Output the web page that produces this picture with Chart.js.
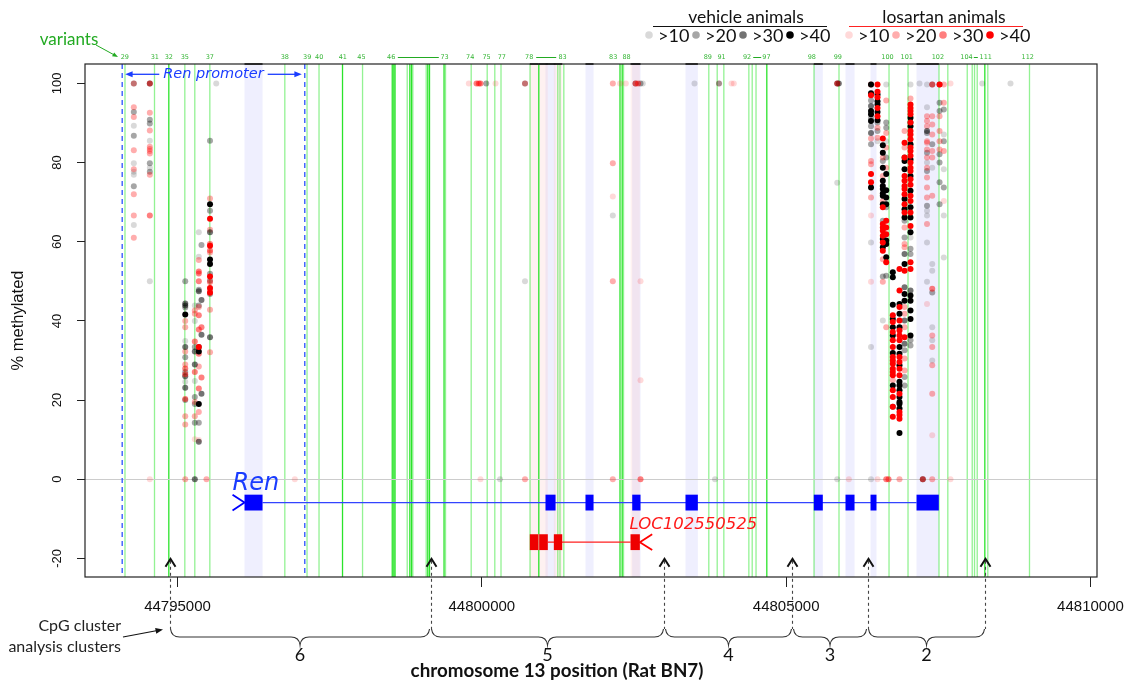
<!DOCTYPE html>
<html>
<head>
<meta charset="utf-8">
<script src="https://cdn.jsdelivr.net/npm/chart.js@4.4.0/dist/chart.umd.min.js"></script>
<style>
  html, body { margin: 0; padding: 0; background: #fff; }
</style>
</head>
<body>
<canvas id="myChart" width="1127" height="682"></canvas>
<script>
// ---- axis ticks ----
const xTicks = [44795000, 44800000, 44805000, 44810000];
const yTicks = [-20, 0, 20, 40, 60, 80, 100];

// ---- CpG site positions (chr13 bp); series below point into this list ----
const cpgSites = [
  44794282, 44794545, 44795127, 44795284, 44795350, 44795394, 44795534, 44795636, 44795476, 44796927,
  44799786, 44799913, 44799950, 44799978, 44800072, 44800225, 44800299, 44800709, 44800734, 44802152,
  44802270, 44802366, 44802525, 44802566, 44802607, 44802645, 44803494, 44803831, 44803897, 44804102,
  44804140, 44805839, 44805865, 44806030, 44806394, 44806501, 44806588, 44806644, 44806682, 44806752,
  44806862, 44806945, 44807043, 44807245, 44807314, 44807400, 44807520, 44807590, 44807700, 44808221,
  44808686, 44807191
];

// [site index, % methylated] -- vehicle animals by read coverage
const veh10 = [[0,89.3],[0,79.8],[0,77.7],[0,76.9],[0,64.2],[1,85.5],[1,78.7],[1,50],[2,34.9],[2,24.6],
  [3,43.9],[3,40],[3,24.8],[4,62.4],[4,56.2],[7,100],[16,0],[17,50],[19,66.6],[25,100],[26,100],[27,0],
  [31,74.9],[31,0],[34,75],[34,59.8],[34,33.4],[34,0],[35,85.4],[36,40.1],[37,99.7],[37,85.4],[42,99.7],[42,61.1],
  [44,99.7],[44,94],[44,80],[44,67.8],[44,66.6],[44,59.8],[44,49.9],[45,78.7],[45,54.4],[45,52.7],[45,38.4],
  [45,35.1],[45,30],[47,87.1],[47,78.3],[47,66.6],[47,56],[49,100],[50,100],[51,100]];
const veh20 = [[0,100],[0,92.8],[0,86.8],[0,74],[1,90.8],[1,89.9],[1,79.8],[1,77.7],[2,50],[2,43.4],[2,30.8],
  [2,27.1],[2,20],[3,33.4],[3,20.8],[3,19],[3,14.3],[4,47.9],[4,43.9],[4,14.3],[5,59.2],[6,85.5],[6,67.8],
  [6,51.9],[6,50.2],[6,46.8],[14,100],[17,100],[22,100],[24,100],[28,100],[34,95.7],[34,91.2],[34,89.2],
  [34,84.6],[35,90.1],[35,88],[36,80.4],[36,65.3],[36,51.2],[37,90.1],[37,88.8],[37,81.3],[37,68.7],[37,51.4],
  [41,65.3],[41,61.1],[41,32.6],[41,25.8],[41,23.7],[42,58.2],[42,56.9],[42,35.1],[42,33.8],[44,87.5],[44,82.5],
  [44,77.9],[44,69.1],[45,99.7],[45,84.6],[45,47.2],[46,99.7],[46,95.1],[46,93],[46,82.1],[46,80],[46,75],
  [46,69.5],[47,93.4],[47,85.4],[47,73.7]];
const veh30 = [[1,100],[2,44.4],[2,43.9],[2,33.4],[2,26],[2,23.1],[3,32.3],[3,29],[3,0],[4,47.5],[4,33.4],[4,9.5],
  [5,45.3],[5,36.5],[5,21.6],[6,62.4],[6,35.9],[31,100],[32,100],[34,94.3],[34,87.5],[39,18.3],[41,81.3],
  [41,56.9],[41,48.5],[41,40.1],[41,34.2],[42,90.1],[42,47.7],[43,0],[44,88]];
const veh40 = [[2,41.6],[4,32.3],[4,19],[6,69.5],[6,55.5],[6,54.4],[34,99.7],[34,97.5],[34,93],[34,92.2],[34,90.5],
  [34,73.7],[35,97.2],[35,95.5],[35,94.7],[35,92.8],[35,90.7],[36,84.4],[36,82.5],[36,78.7],[36,75.4],[36,74.1],
  [36,73.3],[36,72.2],[36,71.6],[36,69.5],[36,60.7],[36,58.6],[37,77.1],[37,73],[37,71.2],[37,69.5],[37,60.3],
  [37,59.4],[37,56.1],[39,52.3],[39,51],[39,44.1],[39,40.5],[39,38.4],[39,36.3],[39,31.9],[39,23.7],[40,44.3],
  [40,41.8],[40,38.4],[40,33.4],[40,31.7],[40,28.8],[40,24.6],[40,23.7],[40,22.5],[40,20.8],[40,19.5],[40,19.1],
  [40,17.9],[40,11.7],[41,80.4],[41,78.3],[41,70.8],[41,68.2],[41,66.1],[41,54.4],[41,46.8],[41,45.1],[42,91.3],
  [42,89.2],[42,84.6],[42,80.8],[42,76.6],[42,72.9],[42,68.7],[42,66.1],[42,62.4],[42,46.4],[42,45.1],[42,42.6],
  [42,40.5],[42,36.3]];

// losartan animals by read coverage
const los10 = [[1,0],[3,10.1],[4,9.9],[9,0],[10,100],[13,0],[15,100],[19,71.4],[20,100],[21,100],[24,50],[24,25],
  [28,100],[29,100],[30,100],[33,0],[34,66.6],[34,49.9],[35,0],[44,44.3],[45,11.1],[47,70.3],[48,100],[48,0]];
const los20 = [[0,100],[0,94],[0,91.5],[0,83.1],[0,78.3],[0,72],[0,66.6],[0,61],[1,92.6],[1,88.1],[1,84],[1,83.4],
  [1,82.9],[1,82.3],[1,76.9],[2,40],[2,38.4],[2,32.3],[2,29],[2,15.9],[2,13.8],[2,0],[3,42.6],[3,41.8],[3,19.5],
  [3,15.9],[4,55.4],[4,43.5],[4,28.5],[4,17],[6,70.9],[6,63],[6,57.3],[6,42.8],[6,32.1],[8,0],[17,100],[17,0],
  [19,100],[19,79.8],[19,50],[19,0],[34,86.1],[34,80.4],[34,79.6],[34,71.2],[35,88.8],[35,86.3],[36,81.3],
  [36,76.6],[36,70.3],[36,55.6],[36,49.9],[37,95.7],[37,87.5],[37,83.8],[37,78.7],[37,38.4],[39,25],[40,0],
  [41,88],[41,83.8],[41,63.6],[41,59.4],[41,58.6],[41,43.5],[41,41.8],[41,38.4],[41,30.5],[41,27.5],[42,96.2],
  [44,91.7],[44,90.5],[44,89.2],[44,85.4],[44,85],[44,83.3],[44,81.3],[44,78.7],[44,76.2],[44,73.7],[44,71.2],
  [44,64.5],[45,91.7],[45,89.6],[45,87.1],[45,82.9],[45,81.3],[45,71.6],[45,36.3],[45,33.4],[45,28.8],[45,21.6],
  [45,0],[46,91.7],[46,88],[46,85.4],[46,83.3],[47,99.7],[47,95.1],[47,82.9]];
const los30 = [[1,100],[1,66.6],[2,28],[2,26.5],[2,20.3],[3,34.8],[3,27.1],[4,52.5],[4,52],[4,50],[4,41.4],[4,37.8],
  [4,31.7],[4,22.9],[5,38.4],[5,25.7],[6,59.4],[6,57.8],[6,49.8],[6,47.7],[11,100],[12,100],[13,100],[22,100],
  [23,100],[24,0],[31,100],[34,99.7],[37,0],[38,0],[43,0],[45,99.7],[45,48.1]];
const los40 = [[4,33.4],[6,65.8],[6,59],[6,51.2],[6,48.3],[6,47.1],[34,97],[34,77.1],[34,75],[35,99.7],[35,97.9],
  [35,96.5],[35,93.8],[35,91.7],[36,86.1],[36,68.7],[36,64.5],[36,63.6],[36,62.8],[36,61.5],[36,59.8],[36,57.7],
  [37,65.3],[37,63.6],[37,61.9],[37,54.8],[39,41.4],[39,39.7],[39,37.2],[39,35.1],[39,33.4],[39,30.9],[39,30],
  [39,29.2],[39,27.9],[39,27.1],[39,26.3],[39,22.5],[39,20.8],[39,18.3],[39,15.8],[40,53.1],[40,47.7],[40,43.5],
  [40,40.1],[40,37.6],[40,36.3],[40,35.1],[40,30.9],[40,29.6],[40,27.9],[40,26.3],[40,21.6],[40,17],[40,16.2],
  [40,15.3],[41,85],[41,81.3],[41,76.6],[41,75.4],[41,74.1],[41,73.3],[41,72],[41,69.5],[41,67.4],[41,52.7],
  [41,35.9],[42,94.7],[42,93.8],[42,93],[42,92.2],[42,90.1],[42,88],[42,87.1],[42,85.9],[42,83.8],[42,82.9],
  [42,81.7],[42,80],[42,78.7],[42,77.9],[42,75.8],[42,74.4],[42,71.6],[42,70.3],[42,67.4],[42,64],[42,54.8],
  [42,53.1],[46,99.7]];

const coverage = ['>10', '>20', '>30', '>40'];
const vehColors = ['rgba(0,0,0,0.15)', 'rgba(0,0,0,0.35)', 'rgba(0,0,0,0.55)', 'rgba(0,0,0,1)'];
const losColors = ['rgba(255,0,0,0.15)', 'rgba(255,0,0,0.32)', 'rgba(255,0,0,0.5)', 'rgba(255,0,0,1)'];

// ---- gene models ----
const renExons = [[44796101,44796397],[44801046,44801211],[44801703,44801835],[44802471,44802607],[44803346,44803549],
  [44805454,44805602],[44805975,44806123],[44806386,44806484],[44807142,44807508]];
const renStart = 44795904;
const locExons = [[44800788,44800936],[44800936,44801084],[44801183,44801321],[44802443,44802596]];
const locEnd = 44802799;

// ---- variants (green lines) ----
const variantPos = [44794137,44794622,44794857,44795120,44795284,44795531,44796763,44797128,44797325,44797711,
  44798040,44798528,44798554,44798574,44798774,44798817,44798845,44798866,44799086,44799112,44799140,44799379,
  44799403,44799825,44800088,44800213,44800315,44800792,44800936,44801248,44801284,44801347,44802270,44802306,
  44802328,44803729,44803867,44803976,44804387,44804442,44804505,44804682,44805458,44805868,44806690,44807002,
  44807511,44807656,44807975,44808057,44808095,44808139,44808264,44808313,44808998];
const variantBright = [0,0,1,0,0,0,0,0,0,1, 0,1,1,1,0,1,1,0,0,1,1,1, 0,0,0,0,0,0,1,0,0,0,1,1,
  0,0,0,0,0,0,0,1,0,0,0,0, 0,0,0,0,0,0,1,0,0];
const variantIds = ['29','31','32','35','37','38','39','40','41','45','46','73','74','75','77','78','83','83','88',
  '89','91','92','97','98','99','100','101','102','104','111','112'];
const variantIdPos = [44794134,44794627,44794857,44795120,44795531,44796763,44797131,44797328,44797716,44798023,
  44798511,44799387,44799809,44800077,44800328,44800778,44801326,44802159,44802377,44803713,44803938,44804357,
  44804677,44805421,44805849,44806665,44806982,44807492,44807963,44808280,44808970];
const variantSpans = [[44798620,44799293],[44800893,44801222],[44804459,44804590],[44808083,44808149]];

const promoter = [44794091, 44797091];
const clusterBreaks = [44794869, 44799157, 44803001, 44805104, 44806337, 44808275];
const clusterNames = ['6', '5', '4', '3', '2'];

const LATO = 'Lato, "Open Sans", sans-serif';

function arrow(ctx, x1, y1, x2, y2, size, color, lw) {
  const ang = Math.atan2(y2 - y1, x2 - x1);
  ctx.strokeStyle = color; ctx.fillStyle = color; ctx.lineWidth = lw || 1;
  ctx.setLineDash([]);
  ctx.beginPath();
  ctx.moveTo(x1, y1);
  ctx.lineTo(x2 - Math.cos(ang) * size * 0.7, y2 - Math.sin(ang) * size * 0.7);
  ctx.stroke();
  ctx.beginPath();
  ctx.moveTo(x2, y2);
  ctx.lineTo(x2 - size * Math.cos(ang - 0.38), y2 - size * Math.sin(ang - 0.38));
  ctx.lineTo(x2 - size * Math.cos(ang + 0.38), y2 - size * Math.sin(ang + 0.38));
  ctx.closePath();
  ctx.fill();
}

function brace(ctx, x1, x2, yTop, yMid, yTip) {
  const m = (x1 + x2) / 2, r = 9;
  ctx.beginPath();
  ctx.moveTo(x1, yTop);
  ctx.quadraticCurveTo(x1 + 1, yMid, x1 + r, yMid);
  ctx.lineTo(m - r, yMid);
  ctx.quadraticCurveTo(m - 1, yMid, m, yTip);
  ctx.quadraticCurveTo(m + 1, yMid, m + r, yMid);
  ctx.lineTo(x2 - r, yMid);
  ctx.quadraticCurveTo(x2 - 1, yMid, x2, yTop);
  ctx.stroke();
}

const annotate = {
  id: 'annotate',
  beforeDatasetsDraw(chart) {
    const { ctx, chartArea: a, scales: { x, y } } = chart;
    const px = v => x.getPixelForValue(v);
    ctx.save();
    ctx.beginPath(); ctx.rect(a.left, a.top, a.width, a.height); ctx.clip();

    // exon shading
    ctx.fillStyle = 'rgba(190,190,250,0.25)';
    renExons.forEach(([s, e]) => ctx.fillRect(px(s), a.top, px(e) - px(s), a.height));
    ctx.fillStyle = 'rgba(250,180,180,0.18)';
    locExons.forEach(([s, e]) => ctx.fillRect(px(s), a.top, px(e) - px(s), a.height));

    // variant lines
    variantPos.forEach((p, i) => {
      ctx.strokeStyle = variantBright[i] ? 'rgba(20,225,20,0.9)' : 'rgba(40,230,40,0.5)';
      ctx.lineWidth = variantBright[i] ? 1.3 : 1.3;
      const xx = px(p);
      ctx.beginPath(); ctx.moveTo(xx, a.top); ctx.lineTo(xx, a.bottom); ctx.stroke();
    });

    // zero line
    const y0 = Math.round(y.getPixelForValue(0)) + 0.5;
    ctx.strokeStyle = '#cccccc'; ctx.lineWidth = 1;
    ctx.beginPath(); ctx.moveTo(a.left, y0); ctx.lineTo(a.right, y0); ctx.stroke();

    // promoter boundaries
    ctx.strokeStyle = '#2b50ff'; ctx.lineWidth = 1.3; ctx.setLineDash([5, 4]);
    promoter.forEach(p => {
      ctx.beginPath(); ctx.moveTo(px(p), a.top); ctx.lineTo(px(p), a.bottom); ctx.stroke();
    });
    ctx.setLineDash([]);

    // Ren gene
    const ry = y.getPixelForValue(-5.9), rh = y.getPixelForValue(-7.9) - y.getPixelForValue(-3.9);
    ctx.strokeStyle = '#3344ff'; ctx.lineWidth = 1.3;
    ctx.beginPath(); ctx.moveTo(px(renExons[0][1]), ry); ctx.lineTo(px(renExons[renExons.length - 1][0]), ry); ctx.stroke();
    ctx.strokeStyle = '#0000ff'; ctx.lineWidth = 1.8;
    ctx.beginPath();
    ctx.moveTo(px(renStart), y.getPixelForValue(-3.9));
    ctx.lineTo(px(renExons[0][0]), ry);
    ctx.lineTo(px(renStart), y.getPixelForValue(-7.9));
    ctx.stroke();
    ctx.fillStyle = '#0000ff';
    renExons.forEach(([s, e]) => ctx.fillRect(px(s), ry - rh / 2, px(e) - px(s), rh));

    // LOC102550525 (reverse strand)
    const ly = y.getPixelForValue(-15.9);
    ctx.strokeStyle = '#ff2020'; ctx.lineWidth = 1.3;
    ctx.beginPath(); ctx.moveTo(px(locExons[1][1]), ly); ctx.lineTo(px(locExons[3][0]), ly); ctx.stroke();
    ctx.strokeStyle = '#ff0000'; ctx.lineWidth = 1.8;
    ctx.beginPath();
    ctx.moveTo(px(locEnd), y.getPixelForValue(-13.9));
    ctx.lineTo(px(locExons[3][1]), ly);
    ctx.lineTo(px(locEnd), y.getPixelForValue(-17.9));
    ctx.stroke();
    ctx.fillStyle = '#ee0000';
    locExons.forEach(([s, e]) => ctx.fillRect(px(s), ly - rh / 2, px(e) - px(s), rh));
    ctx.strokeStyle = 'rgba(255,255,255,0.5)'; ctx.lineWidth = 1;
    ctx.beginPath(); ctx.moveTo(px(locExons[1][0]), ly - rh / 2); ctx.lineTo(px(locExons[1][0]), ly + rh / 2); ctx.stroke();

    ctx.restore();
  },
  afterDraw(chart) {
    const { ctx, chartArea: a, scales: { x, y } } = chart;
    const px = v => x.getPixelForValue(v);
    ctx.save();

    // box
    ctx.strokeStyle = '#222'; ctx.lineWidth = 1.2;
    ctx.strokeRect(a.left, a.top, a.width, a.height);
    ctx.lineWidth = 1.8; ctx.strokeStyle = '#222';
    renExons.concat(locExons).forEach(([s, e]) => {
      ctx.beginPath(); ctx.moveTo(px(s), a.top); ctx.lineTo(px(e), a.top); ctx.stroke();
    });

    // variant ids
    ctx.fillStyle = '#35b535'; ctx.font = '6.5px "DejaVu Sans"';
    ctx.textAlign = 'center'; ctx.textBaseline = 'middle';
    variantIds.forEach((t, i) => ctx.fillText(t, px(variantIdPos[i]), 57));
    ctx.strokeStyle = '#22aa22'; ctx.lineWidth = 1;
    variantSpans.forEach(([s, e]) => {
      ctx.beginPath(); ctx.moveTo(px(s), 57.5); ctx.lineTo(px(e), 57.5); ctx.stroke();
    });

    // "variants" label
    ctx.font = '17px ' + LATO; ctx.fillStyle = '#22aa22';
    ctx.fillText('variants', 69, 40);
    arrow(ctx, 96, 45, 118, 57, 6, '#22aa22', 1);

    // Ren promoter
    const pm = (px(promoter[0]) + px(promoter[1])) / 2, py = y.getPixelForValue(102.3);
    ctx.font = 'italic 14.5px "DejaVu Sans"'; ctx.fillStyle = '#1a3cff';
    ctx.fillText('Ren promoter', pm, py);
    const tw = ctx.measureText('Ren promoter').width / 2 + 4;
    arrow(ctx, pm - tw, py, px(promoter[0]) + 3, py, 8, '#1a3cff', 1.3);
    arrow(ctx, pm + tw, py, px(promoter[1]) - 3, py, 8, '#1a3cff', 1.3);

    // gene names
    ctx.textAlign = 'left'; ctx.textBaseline = 'alphabetic';
    ctx.font = 'italic 24px "DejaVu Sans"'; ctx.fillStyle = '#1a3cff';
    ctx.fillText('Ren', px(renStart), y.getPixelForValue(-2.7));
    ctx.font = 'italic 16.5px "DejaVu Sans"'; ctx.fillStyle = '#ff1a1a';
    ctx.fillText('LOC102550525', px(locExons[3][0]) - 1, y.getPixelForValue(-12.6));

    // legend
    ctx.textAlign = 'center'; ctx.textBaseline = 'middle';
    ctx.font = '17.5px ' + LATO; ctx.fillStyle = '#111';
    ctx.fillText('vehicle animals', 746, 17);
    ctx.fillText('losartan animals', 944, 17);
    ctx.lineWidth = 1;
    ctx.strokeStyle = '#111';
    ctx.beginPath(); ctx.moveTo(653, 26.5); ctx.lineTo(827, 26.5); ctx.stroke();
    ctx.strokeStyle = '#ff2222';
    ctx.beginPath(); ctx.moveTo(849, 26.5); ctx.lineTo(1023, 26.5); ctx.stroke();
    ctx.font = '18px ' + LATO; ctx.textAlign = 'left';
    coverage.forEach((c, i) => {
      const vx = 649 + i * 47, lx = 849 + i * 47;
      ctx.fillStyle = vehColors[i];
      ctx.beginPath(); ctx.arc(vx, 35, 3.8, 0, Math.PI * 2); ctx.fill();
      ctx.fillStyle = losColors[i];
      ctx.beginPath(); ctx.arc(lx, 35, 3.8, 0, Math.PI * 2); ctx.fill();
      ctx.fillStyle = '#111';
      ctx.fillText(c, vx + 9, 36);
      ctx.fillText(c, lx + 9, 36);
    });

    // cluster boundaries
    const tip = y.getPixelForValue(-20.1);
    clusterBreaks.forEach(b => {
      const bx = Math.round(px(b)) + 0.5;
      ctx.strokeStyle = '#444'; ctx.lineWidth = 1.1; ctx.setLineDash([3, 3]);
      ctx.beginPath(); ctx.moveTo(bx, tip + 2); ctx.lineTo(bx, 629); ctx.stroke();
      ctx.setLineDash([]); ctx.strokeStyle = '#111'; ctx.lineWidth = 2;
      ctx.beginPath(); ctx.moveTo(bx - 5, tip + 8); ctx.lineTo(bx, tip); ctx.lineTo(bx + 5, tip + 8); ctx.stroke();
    });
    ctx.strokeStyle = '#333'; ctx.lineWidth = 1.1;
    ctx.font = '18px ' + LATO; ctx.fillStyle = '#111'; ctx.textAlign = 'center';
    clusterNames.forEach((n, i) => {
      const x1 = px(clusterBreaks[i]), x2 = px(clusterBreaks[i + 1]);
      brace(ctx, x1 + 1, x2 - 1, 629, 637, 645);
      ctx.fillText(n, (x1 + x2) / 2, 655);
    });

    // side note and axis title
    ctx.textAlign = 'right'; ctx.font = '16px ' + LATO; ctx.fillStyle = '#222';
    ctx.fillText('CpG cluster', 121, 626);
    ctx.fillText('analysis clusters', 121, 647);
    arrow(ctx, 123, 637, 163, 629.5, 8, '#111', 1.1);
    ctx.textAlign = 'center'; ctx.font = 'bold 18.8px ' + LATO; ctx.fillStyle = '#111';
    ctx.fillText('chromosome 13 position (Rat BN7)', 557, 671);

    ctx.restore();
  }
};

const toPts = arr => arr.map(([i, v]) => ({ x: cpgSites[i], y: v }));
// first dataset is drawn last (on top)
const series = [
  [los40, losColors[3]], [veh40, vehColors[3]], [los30, losColors[2]], [veh30, vehColors[2]],
  [los20, losColors[1]], [veh20, vehColors[1]], [los10, losColors[0]], [veh10, vehColors[0]]
];

const ctx = document.getElementById('myChart').getContext('2d');
const myChart = new Chart(ctx, {
  type: 'scatter',
  data: {
    datasets: series.map(([d, c]) => ({
      data: toPts(d),
      backgroundColor: c,
      pointRadius: 3,
      pointBorderWidth: 0,
      pointHoverRadius: 3
    }))
  },
  options: {
    responsive: false,
    animation: false,
    devicePixelRatio: 1,
    layout: { padding: { top: 64, right: 30, left: 0, bottom: 0 } },
    plugins: { legend: { display: false }, tooltip: { enabled: false } },
    scales: {
      x: {
        type: 'linear', min: 44793480, max: 44810107,
        afterBuildTicks: s => { s.ticks = xTicks.map(v => ({ value: v })); },
        afterFit: s => { s.height = 105; s.paddingLeft = 0; s.paddingRight = 0; },
        grid: { display: true, drawOnChartArea: false, drawTicks: true, tickLength: 10, tickColor: '#222', color: '#222' },
        border: { display: false },
        ticks: {
          autoSkip: false, minRotation: 0, maxRotation: 0, padding: 11, color: '#111',
          font: { family: 'Liberation Sans', size: 15 },
          callback: v => String(v)
        }
      },
      y: {
        type: 'linear', min: -24.7, max: 104.9,
        afterBuildTicks: s => { s.ticks = yTicks.map(v => ({ value: v })); },
        afterFit: s => { s.width = 85; s.paddingTop = 0; s.paddingBottom = 0; },
        grid: { display: true, drawOnChartArea: false, drawTicks: true, tickLength: 8, tickColor: '#222', color: '#222' },
        border: { display: false },
        ticks: {
          minRotation: 90, maxRotation: 90, crossAlign: 'center', padding: 9, color: '#111',
          font: { family: 'Liberation Sans', size: 13 },
          callback: v => String(v)
        },
        title: {
          display: true, text: '% methylated', color: '#111',
          font: { family: 'Liberation Sans', size: 16.5 },
          padding: { top: 9, bottom: 0 }
        }
      }
    }
  },
  plugins: [annotate]
});
</script>
</body>
</html>
